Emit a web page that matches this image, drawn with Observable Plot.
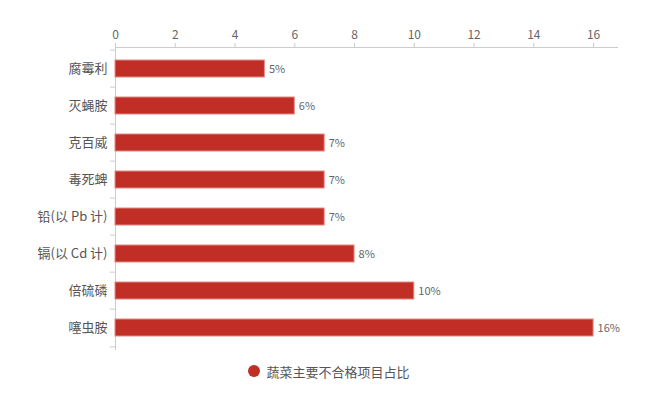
<!DOCTYPE html>
<html><head><meta charset="utf-8">
<script src="https://cdn.jsdelivr.net/npm/d3@7"></script>
<script src="https://cdn.jsdelivr.net/npm/@observablehq/plot@0.6"></script>
<style>
body{margin:0;background:#fff;font-family:"Noto Sans CJK SC","Noto Sans",sans-serif;}
#legend{display:flex;justify-content:center;align-items:center;height:20px;margin-top:5px;font-size:13px;color:#555;}
#legend .dot{width:12px;height:12px;border-radius:50%;background:#c12e26;margin-right:6px;}
</style></head>
<body>
<div id="chart"></div>
<div id="legend"><span class="dot"></span><span>蔬菜主要不合格项目占比</span></div>
<script>
const categories = ["腐霉利","灭蝇胺","克百威","毒死蜱","铅(以 Pb 计)","镉(以 Cd 计)","倍硫磷","噻虫胺"];
const values = [5, 6, 7, 7, 7, 8, 10, 16];
const xTicks = [0, 2, 4, 6, 8, 10, 12, 14, 16];
const seriesName = "蔬菜主要不合格项目占比";

const data = categories.map((c, i) => ({category: c, value: values[i]}));
const W = 658, H = 356, mt = 47, mb = 7;
const step = (H - mt - mb) / categories.length;

const chart = Plot.plot({
  width: W, height: H,
  marginTop: mt, marginBottom: mb, marginLeft: 115, marginRight: 41,
  style: {fontFamily: '"Noto Sans CJK SC","Noto Sans",sans-serif', fontSize: "12px"},
  x: {domain: [0, 16.8]},
  y: {domain: categories, padding: 0},
  marks: [
    Plot.frame({anchor: "top", stroke: "#ccc"}),
    Plot.frame({anchor: "left", stroke: "#ccc"}),
    Plot.axisX({anchor: "top", ticks: xTicks, tickSize: 5, tickPadding: 4, stroke: "#ccc", color: "#666", fill: "#666", label: null, fontSize: 12}),
    Plot.axisY({tickSize: 0, tickPadding: 8, color: "#555", label: null, fontSize: 13}),
    Plot.ruleY(categories, {y: d => d, x1: -0.17, x2: 0, dy: -step / 2, stroke: "#ccc"}),
    Plot.ruleY(categories.slice(-1), {y: d => d, x1: -0.17, x2: 0, dy: step / 2, stroke: "#ccc"}),
    Plot.barX(data, {y: "category", x: "value", fill: "#c12e26", stroke: "#e28a84", strokeWidth: 1, insetTop: 10, insetBottom: 10}),
    Plot.text(data, {y: "category", x: "value", text: d => d.value + "%", textAnchor: "start", dx: 4, fill: "#666", fontSize: 11})
  ]
});
document.getElementById("chart").appendChild(chart);
</script>
</body></html>
